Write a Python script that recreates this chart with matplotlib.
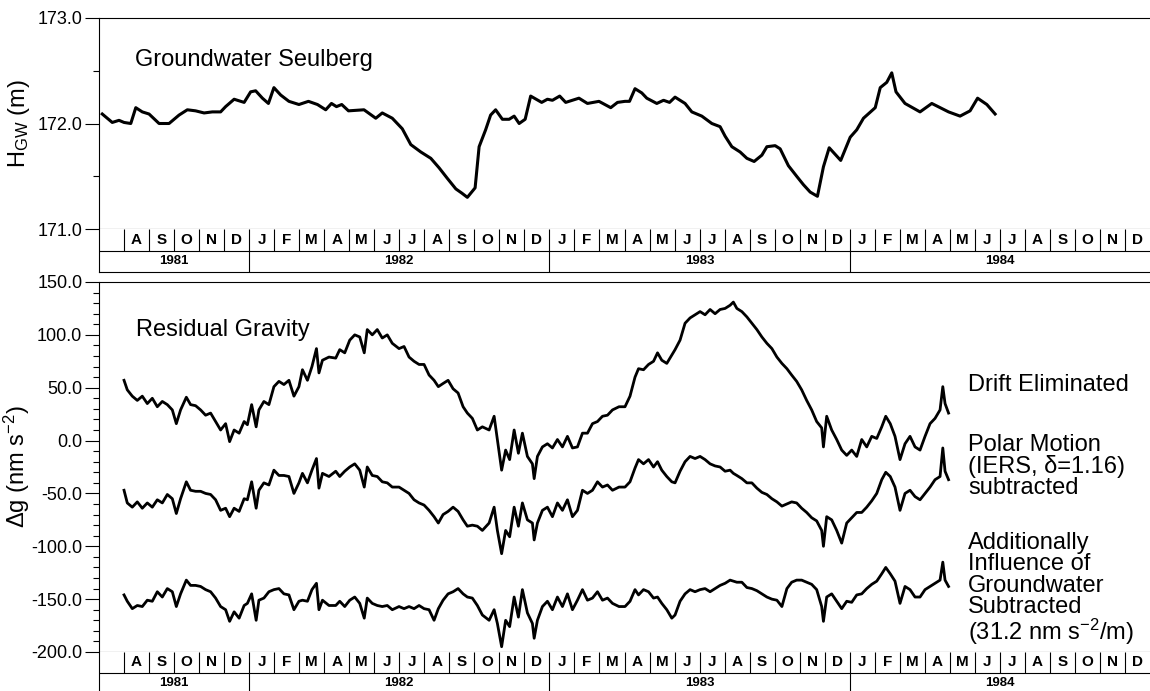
import matplotlib
matplotlib.use("Agg")
import matplotlib.pyplot as plt
from matplotlib.ticker import FixedLocator, MultipleLocator, FormatStrFormatter

plt.rcParams["font.family"] = ["Liberation Sans", "DejaVu Sans"]
plt.rcParams["mathtext.default"] = "regular"

# ---------------------------------------------------------------------------
# Time axis: months counted from 1 July 1981 (0) to 31 Dec 1984 (42)
# ---------------------------------------------------------------------------
N_MONTHS = 42
FIRST_MONTH = 6  # July
MONTHS = ["J", "F", "M", "A", "M", "J", "J", "A", "S", "O", "N", "D"]
YEARS = ["1981", "1982", "1983", "1984"]
YEAR_EDGES = [0, 6, 18, 30, 42]

# Groundwater level Seulberg (m)
t_gw = [0.13, 0.53, 0.80, 1.00, 1.27, 1.47, 1.73, 2.00, 2.40, 2.80,
        3.20, 3.53, 3.86, 4.20, 4.53, 4.86, 5.06, 5.40, 5.80, 6.06,
        6.26, 6.53, 6.77, 6.99, 7.26, 7.59, 7.99, 8.37, 8.73, 9.06,
        9.29, 9.49, 9.70, 9.97, 10.59, 11.06, 11.32, 11.72, 12.12, 12.46,
        12.86, 13.26, 13.59, 13.92, 14.26, 14.50, 14.72, 15.03, 15.19, 15.45,
        15.65, 15.85, 16.12, 16.39, 16.59, 16.79, 17.03, 17.25, 17.69, 17.92,
        18.12, 18.41, 18.65, 19.18, 19.52, 19.98, 20.45, 20.72,
        21.02, 21.20, 21.42, 21.69, 21.89, 22.29, 22.56, 22.80, 23.02, 23.42,
        23.69, 24.09, 24.49, 24.82, 25.02, 25.29, 25.62, 25.89, 26.18, 26.49,
        26.69, 27.02, 27.22, 27.55, 27.88, 28.15, 28.42, 28.71, 28.95, 29.18,
        29.64, 30.02, 30.28, 30.55, 31.02, 31.22, 31.48, 31.68, 31.85, 32.21,
        32.81, 33.28, 33.95, 34.41, 34.81, 35.11, 35.48, 35.81]
h_gw = [172.09, 172.01, 172.03, 172.01, 172.00, 172.15, 172.11, 172.09, 172.00, 172.00,
        172.08, 172.13, 172.12, 172.10, 172.11, 172.11, 172.16, 172.23, 172.20, 172.30,
        172.31, 172.24, 172.19, 172.34, 172.27, 172.21, 172.18, 172.21, 172.18, 172.13,
        172.19, 172.16, 172.18, 172.12, 172.13, 172.05, 172.10, 172.05, 171.95, 171.80,
        171.73, 171.67, 171.58, 171.48, 171.38, 171.34, 171.30, 171.39, 171.78, 171.94,
        172.08, 172.13, 172.04, 172.04, 172.07, 172.00, 172.04, 172.26, 172.20, 172.23,
        172.22, 172.26, 172.20, 172.24, 172.19, 172.21, 172.15, 172.20,
        172.21, 172.21, 172.33, 172.29, 172.24, 172.19, 172.22, 172.20, 172.25, 172.19,
        172.11, 172.07, 172.00, 171.97, 171.88, 171.78, 171.73, 171.67, 171.64, 171.70,
        171.78, 171.79, 171.76, 171.60, 171.50, 171.42, 171.35, 171.31, 171.59, 171.77,
        171.65, 171.87, 171.94, 172.05, 172.15, 172.34, 172.39, 172.48, 172.30, 172.19,
        172.11, 172.19, 172.11, 172.07, 172.12, 172.24, 172.18, 172.09]

# Residual gravity (nm s^-2), three reductions sampled on one time grid
t_grav = [1.00, 1.13, 1.33, 1.53, 1.73, 1.93, 2.13, 2.33, 2.53, 2.73,
          2.93, 3.09, 3.26, 3.49, 3.66, 3.86, 4.06, 4.26, 4.46, 4.66,
          4.86, 5.06, 5.22, 5.40, 5.60, 5.80, 5.93, 6.10, 6.28, 6.39,
          6.59, 6.79, 6.99, 7.19, 7.39, 7.59, 7.79, 7.99, 8.13, 8.33,
          8.51, 8.69, 8.79, 8.93, 9.19, 9.46, 9.62, 9.82, 10.02, 10.22,
          10.42, 10.60, 10.72, 10.92, 11.12, 11.32, 11.52, 11.72, 11.99, 12.19,
          12.39, 12.59, 12.79, 12.99, 13.19, 13.39, 13.56, 13.75, 13.95, 14.15,
          14.35, 14.55, 14.72, 14.92, 15.12, 15.32, 15.59, 15.79, 15.92, 16.09,
          16.25, 16.41, 16.59, 16.76, 16.92, 17.12, 17.32, 17.39, 17.52, 17.72,
          17.92, 18.12, 18.32, 18.52, 18.72, 18.92, 19.12, 19.32, 19.52, 19.72,
          19.92, 20.12, 20.32, 20.52, 20.78,
          21.02, 21.22, 21.42, 21.56, 21.76, 21.96, 22.16, 22.32, 22.49, 22.69,
          22.89, 23.02, 23.22, 23.42, 23.62, 23.82, 24.02, 24.22, 24.42, 24.62,
          24.82, 25.02, 25.22, 25.35, 25.49, 25.69, 25.89, 26.09, 26.29, 26.49,
          26.69, 26.89, 27.09, 27.29, 27.49, 27.68, 27.88, 28.08, 28.28, 28.48,
          28.68, 28.88, 28.95, 29.08, 29.28, 29.48, 29.68, 29.88, 30.08, 30.28,
          30.48, 30.68, 30.88, 31.08, 31.28, 31.44, 31.62, 31.81, 32.01, 32.21,
          32.41, 32.61, 32.81, 33.01, 33.21, 33.41, 33.61, 33.72, 33.81, 33.95]

g_drift = [57, 48, 42, 38, 42, 35, 40, 32, 37, 34,
           29, 16, 29, 41, 34, 33, 29, 24, 26, 18,
           10, 16, -1, 10, 7, 18, 15, 34, 13, 29,
           37, 34, 51, 56, 53, 57, 42, 51, 67, 57,
           70, 87, 64, 76, 79, 78, 86, 83, 95, 100,
           98, 83, 105, 100, 105, 97, 100, 92, 87, 89,
           79, 75, 72, 72, 62, 57, 51, 54, 57, 49,
           45, 32, 26, 21, 10, 13, 10, 23, 1, -28,
           -9, -18, 10, -12, 7, -15, -22, -36, -15, -6,
           -3, -7, 1, -6, 4, -7, -6, 7, 7, 16,
           18, 23, 24, 29, 32,
           32, 42, 60, 68, 67, 72, 75, 83, 76, 73,
           81, 86, 95, 111, 116, 119, 122, 119, 124, 120,
           124, 125, 128, 131, 125, 122, 117, 111, 105, 98,
           92, 87, 79, 73, 68, 62, 56, 48, 38, 29,
           18, 12, -6, 23, 10, 1, -9, -14, -9, -15,
           1, -6, 4, 2, 13, 23, 16, 4, -18, -3,
           4, -6, -9, 4, 16, 21, 29, 51, 35, 26]

g_polar = [-47, -59, -63, -58, -64, -59, -63, -56, -59, -51,
           -55, -69, -55, -39, -47, -48, -48, -50, -51, -56,
           -66, -64, -72, -64, -67, -55, -56, -39, -64, -47,
           -40, -42, -28, -33, -33, -34, -50, -40, -31, -40,
           -28, -17, -45, -31, -34, -29, -34, -29, -25, -22,
           -28, -44, -25, -33, -34, -39, -40, -44, -44, -47,
           -50, -56, -59, -61, -66, -72, -78, -70, -67, -63,
           -67, -75, -81, -80, -81, -85, -78, -63, -85, -107,
           -85, -91, -63, -81, -59, -75, -78, -94, -78, -66,
           -63, -72, -59, -66, -56, -72, -66, -47, -50, -47,
           -39, -44, -42, -47, -44,
           -44, -39, -26, -18, -22, -18, -25, -20, -28, -34,
           -39, -40, -29, -20, -15, -17, -15, -18, -22, -24,
           -25, -29, -28, -31, -33, -36, -40, -40, -45, -49,
           -51, -55, -58, -62, -60, -58, -59, -64, -68, -73,
           -76, -85, -100, -72, -75, -85, -97, -78, -73, -68,
           -68, -63, -57, -50, -37, -30, -34, -44, -66, -50,
           -47, -53, -56, -50, -44, -37, -34, -7, -29, -37]

g_groundwater = [-146, -152, -159, -156, -157, -151, -152, -143, -148, -140,
                 -143, -157, -145, -132, -137, -137, -138, -141, -143, -149,
                 -157, -160, -171, -162, -168, -156, -154, -145, -170, -151,
                 -149, -143, -141, -140, -145, -146, -160, -152, -151, -152,
                 -141, -135, -160, -151, -156, -156, -152, -157, -151, -148,
                 -154, -168, -149, -154, -156, -157, -156, -160, -157, -159,
                 -157, -159, -156, -159, -160, -170, -159, -151, -145, -143,
                 -140, -145, -148, -149, -156, -165, -170, -160, -173, -195,
                 -170, -176, -148, -167, -141, -163, -173, -187, -170, -157,
                 -152, -160, -148, -157, -145, -160, -151, -141, -151, -149,
                 -143, -151, -149, -154, -157,
                 -157, -152, -141, -146, -141, -143, -149, -148, -154, -160,
                 -168, -165, -152, -145, -141, -143, -141, -140, -143, -140,
                 -137, -135, -132, -133, -134, -134, -139, -140, -142, -145,
                 -148, -150, -151, -157, -140, -134, -132, -132, -134, -136,
                 -141, -157, -171, -148, -145, -152, -159, -152, -153, -146,
                 -145, -140, -136, -133, -126, -120, -126, -133, -154, -138,
                 -141, -148, -148, -141, -138, -135, -132, -115, -132, -138]

SERIES_LABELS = [
    "Drift Eliminated",
    "Polar Motion\n(IERS, \u03b4=1.16)\nsubtracted",
    "Additionally\nInfluence of\nGroundwater\nSubtracted\n(31.2 nm s$^{-2}$/m)",
]

LW = 0.8
W, H = 1150, 691


def frac_rect(x0, y_top, x1, y_bot):
    """Pixel box (origin top-left) -> figure fraction rect."""
    return [x0 / W, 1 - y_bot / H, (x1 - x0) / W, (y_bot - y_top) / H]


def style_value_axis(ax):
    ax.set_xlim(0, N_MONTHS)
    ax.set_xticks([])
    ax.spines["right"].set_visible(False)
    for s in ("left", "top", "bottom"):
        ax.spines[s].set_linewidth(LW)
    ax.tick_params(axis="y", which="major", direction="out", length=10,
                   width=LW, labelsize=13, pad=2)
    ax.tick_params(axis="y", which="minor", direction="out", length=4, width=LW)


def month_band(rect):
    ax = fig.add_axes(rect)
    ax.set_xlim(0, N_MONTHS)
    ax.set_ylim(0, 2)
    ax.set_xticks([])
    ax.set_yticks([])
    for s in ("top", "right"):
        ax.spines[s].set_visible(False)
    for s in ("left", "bottom"):
        ax.spines[s].set_linewidth(LW)
    ax.axhline(1, color="k", lw=LW)
    ax.vlines(range(1, N_MONTHS), 1, 2, color="k", lw=LW)
    ax.vlines(YEAR_EDGES[1:-1], 0, 1, color="k", lw=LW)
    for i in range(1, N_MONTHS):
        ax.text(i + 0.5, 1.5, MONTHS[(FIRST_MONTH + i) % 12], ha="center",
                va="center", fontsize=11, fontweight="bold")
    for year, a, b in zip(YEARS, YEAR_EDGES[:-1], YEAR_EDGES[1:]):
        ax.text((a + b) / 2, 0.5, year, ha="center", va="center",
                fontsize=9.5, fontweight="bold")
    return ax


fig = plt.figure(figsize=(W / 100, H / 100), dpi=100)

# --- groundwater panel -----------------------------------------------------
ax_gw = fig.add_axes(frac_rect(99, 18, W, 229))
style_value_axis(ax_gw)
ax_gw.set_ylim(171.0, 173.0)
ax_gw.yaxis.set_major_locator(FixedLocator([171.0, 172.0, 173.0]))
ax_gw.yaxis.set_minor_locator(FixedLocator([171.5, 172.5]))
ax_gw.yaxis.set_major_formatter(FormatStrFormatter("%.1f"))
ax_gw.plot(t_gw, h_gw, color="k", lw=2.2, solid_joinstyle="round")
ax_gw.text(0.034, 0.774, "Groundwater Seulberg", transform=ax_gw.transAxes,
           fontsize=17, va="baseline", ha="left")
ax_gw.set_ylabel("H$_{GW}$ (m)", fontsize=17)
ax_gw.yaxis.set_label_coords(-0.064, 0.5)

month_band(frac_rect(99, 229, W, 272))

# --- gravity panel ---------------------------------------------------------
ax_g = fig.add_axes(frac_rect(99, 282, W, 652))
style_value_axis(ax_g)
ax_g.set_ylim(-200, 150)
ax_g.yaxis.set_major_locator(MultipleLocator(50))
ax_g.yaxis.set_minor_locator(MultipleLocator(10))
ax_g.yaxis.set_major_formatter(FormatStrFormatter("%.1f"))
for series in (g_drift, g_polar, g_groundwater):
    ax_g.plot(t_grav, series, color="k", lw=2.0)
ax_g.text(0.035, 0.854, "Residual Gravity", transform=ax_g.transAxes,
          fontsize=17, va="baseline", ha="left")
for label, y in zip(SERIES_LABELS, (0.751, 0.590, 0.324)):
    ax_g.text(0.827, y, label, transform=ax_g.transAxes, fontsize=17,
              va="top", ha="left", linespacing=0.96)
ax_g.set_ylabel("\u0394g (nm s$^{-2}$)", fontsize=17)
ax_g.yaxis.set_label_coords(-0.064, 0.5)

month_band(frac_rect(99, 652, W, 694))

fig.savefig("out.png", dpi=100)
